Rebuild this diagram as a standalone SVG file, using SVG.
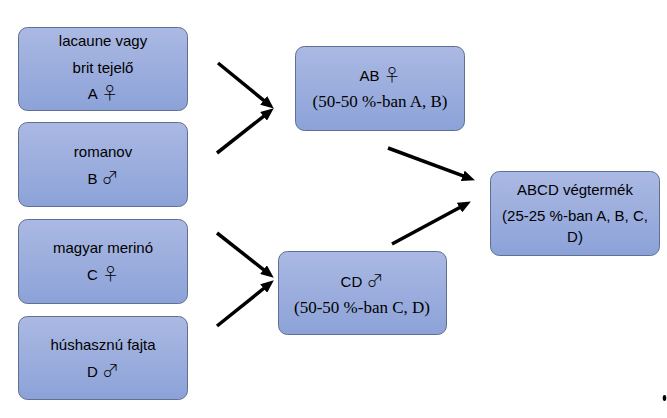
<svg xmlns="http://www.w3.org/2000/svg" width="667" height="418" viewBox="0 0 667 418">
<defs>
<linearGradient id="g" x1="0" y1="0" x2="0" y2="1">
<stop offset="0" stop-color="#abb9e3"/>
<stop offset="1" stop-color="#8ca2d8"/>
</linearGradient>
<marker id="ah" markerUnits="userSpaceOnUse" markerWidth="13" markerHeight="11" refX="4" refY="5.5" orient="auto">
<path d="M0,0 L13,5.5 L0,11 z" fill="#000"/>
</marker>
<style>
.box{fill:url(#g);stroke:#5f6f91;stroke-width:1}
.t{font-family:"Liberation Sans","DejaVu Sans",sans-serif;font-size:15px;fill:#000;text-anchor:middle}
.s{font-family:"Liberation Serif","DejaVu Serif",serif;font-size:17px;fill:#000;text-anchor:middle}
.g{font-family:"Noto Sans CJK JP","DejaVu Sans",sans-serif;font-size:17px;font-weight:300}
.c line{stroke:#000;stroke-width:3.5;marker-end:url(#ah)}
</style>
</defs>
<rect width="667" height="418" fill="#fff"/>
<g id="nodeA"><rect class="box" x="18.5" y="27.5" width="169" height="83" rx="9"/>
<text class="t" x="103" y="46">lacaune vagy</text>
<text class="t" x="103" y="73">brit tejelő</text>
<text class="t" x="103" y="99">A <tspan class="g">♀</tspan></text></g>
<g id="nodeB"><rect class="box" x="18.5" y="122.5" width="169" height="84" rx="9"/>
<text class="t" x="103" y="157">romanov</text>
<text class="t" x="103" y="184">B <tspan class="g">♂</tspan></text></g>
<g id="nodeC"><rect class="box" x="18.5" y="219.5" width="169" height="84" rx="9"/>
<text class="t" x="103" y="253">magyar merinó</text>
<text class="t" x="103" y="280">C <tspan class="g">♀</tspan></text></g>
<g id="nodeD"><rect class="box" x="18.5" y="316.5" width="169" height="83" rx="9"/>
<text class="t" x="103" y="350">húshasznú fajta</text>
<text class="t" x="103" y="377">D <tspan class="g">♂</tspan></text></g>
<g id="nodeAB"><rect class="box" x="295.5" y="46.5" width="169" height="84" rx="9"/>
<text class="t" x="380" y="81">AB <tspan class="g">♀</tspan></text>
<text class="s" x="380" y="107">(50-50 %-ban A, B)</text></g>
<g id="nodeCD"><rect class="box" x="278.5" y="251.5" width="168" height="83" rx="9"/>
<text class="t" x="362" y="287">CD <tspan class="g">♂</tspan></text>
<text class="s" x="362" y="313">(50-50 %-ban C, D)</text></g>
<g id="nodeABCD"><rect class="box" x="490.5" y="171.5" width="169" height="84" rx="9"/>
<text class="t" x="575" y="195">ABCD végtermék</text>
<text class="t" x="575" y="221">(25-25 %-ban A, B, C,</text>
<text class="t" x="575" y="242">D)</text></g>
<g id="connectors" class="c">
<line x1="218" y1="63" x2="266.8" y2="102.9"/>
<line x1="217" y1="153" x2="266.7" y2="113.9"/>
<line x1="217" y1="233" x2="266.7" y2="272.1"/>
<line x1="217" y1="326" x2="266.8" y2="286"/>
<line x1="388" y1="148" x2="466.5" y2="177.2"/>
<line x1="392" y1="244" x2="463" y2="205.8"/>
</g>
<ellipse cx="664.5" cy="398" rx="1.8" ry="3" fill="#000"/>
</svg>
